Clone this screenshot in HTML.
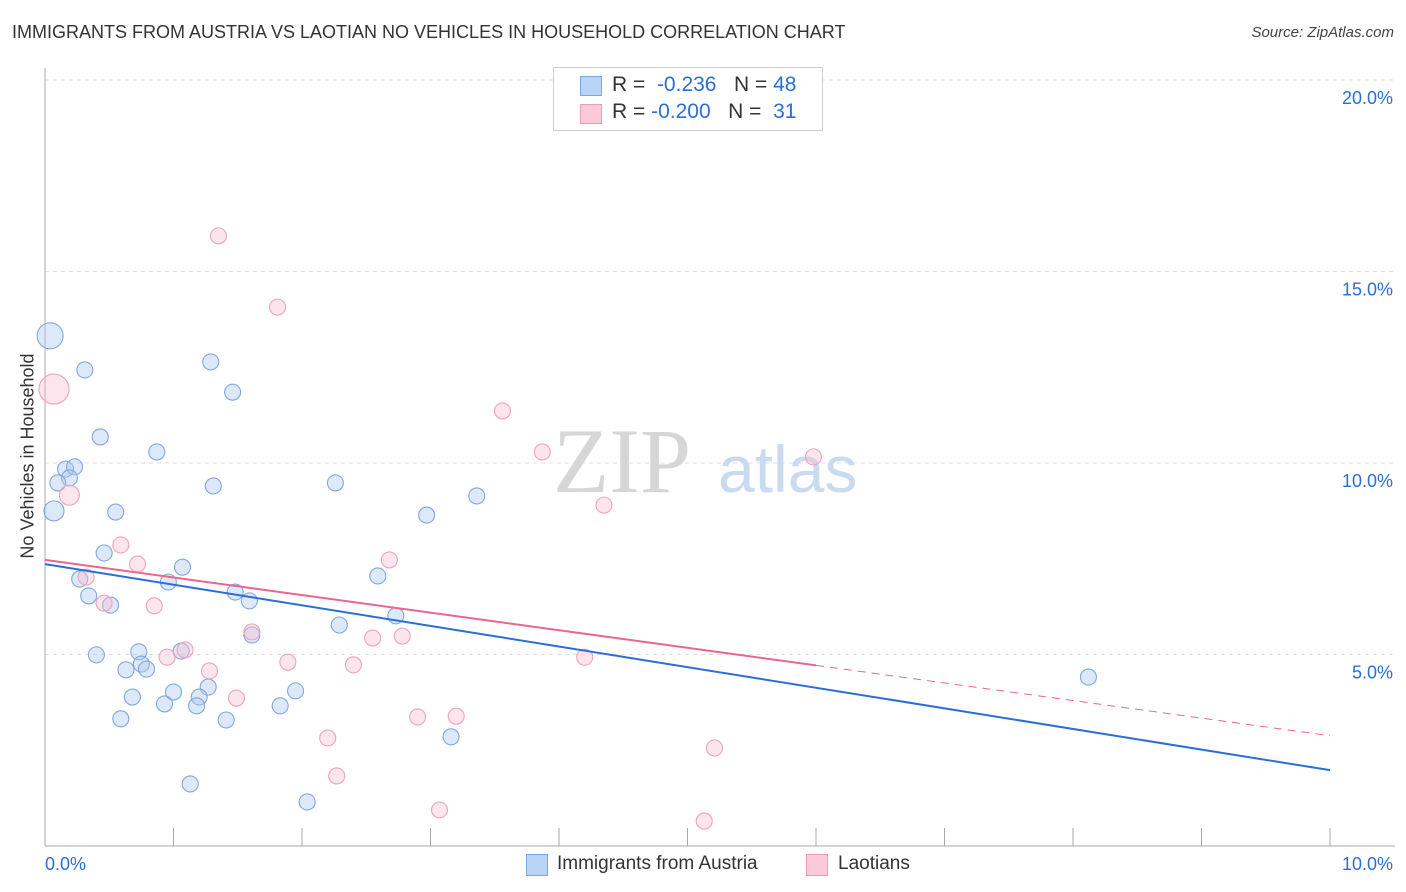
<!DOCTYPE html>
<html><head><meta charset="utf-8"><style>
body{margin:0;background:#fff;font-family:"Liberation Sans",sans-serif;}
#wrap{position:relative;width:1406px;height:892px;overflow:hidden;}
.t{position:absolute;white-space:nowrap;}
</style></head><body><div id="wrap">
<div class="t" style="left:12px;top:22px;font-size:18px;color:#333;">IMMIGRANTS FROM AUSTRIA VS LAOTIAN NO VEHICLES IN HOUSEHOLD CORRELATION CHART</div>
<div class="t" style="right:12px;top:24px;font-size:15px;color:#444;font-style:italic;">Source: ZipAtlas.com</div>
<svg id="svg" width="1406" height="892" style="position:absolute;left:0;top:0"></svg>
<div class="t" style="left:553px;top:67px;width:268px;height:62px;border:1px solid #ccc;background:#fff;font-size:21px;">
<div style="position:absolute;left:26px;top:8px;width:20px;height:18px;background:#b8d4f4;border:1px solid #7aaae6"></div>
<div class="t" style="left:58px;top:5px;color:#333">R = <span style="color:#2a6fd6">&nbsp;-0.236</span>&nbsp;&nbsp;&nbsp;N = <span style="color:#2a6fd6">48</span></div>
<div style="position:absolute;left:26px;top:36px;width:20px;height:18px;background:#fbcad8;border:1px solid #f09ab5"></div>
<div class="t" style="left:58px;top:32px;color:#333">R = <span style="color:#2a6fd6">-0.200</span>&nbsp;&nbsp;&nbsp;N = <span style="color:#2a6fd6">&nbsp;31</span></div>
</div>
<div class="t" style="left:14px;top:456px;font-size:18px;color:#333;transform:translate(-50%,-50%) rotate(-90deg);transform-origin:center;margin-left:14px">No Vehicles in Household</div>
<div style="position:absolute;left:526px;top:854px;width:20px;height:20px;background:#b8d4f4;border:1px solid #7aaae6"></div>
<div class="t" style="left:557px;top:853px;font-size:19px;color:#333">Immigrants from Austria</div>
<div style="position:absolute;left:806px;top:854px;width:20px;height:20px;background:#fbcad8;border:1px solid #f09ab5"></div>
<div class="t" style="left:838px;top:853px;font-size:19px;color:#333">Laotians</div>
</div>
<script>
const blueX=[0.04,0.31,1.29,1.46,0.43,0.87,0.16,0.23,0.19,0.10,1.31,2.26,3.36,0.07,0.55,2.97,0.46,1.07,2.59,0.27,0.96,1.48,0.34,0.51,1.59,2.73,2.29,1.61,1.06,0.73,0.40,0.75,0.79,0.63,8.12,1.27,1.95,1.00,0.68,1.20,0.93,1.18,1.83,0.59,1.41,3.16,1.13,2.04];
const blueY=[13.32,12.43,12.64,11.85,10.68,10.29,9.84,9.90,9.61,9.48,9.40,9.48,9.14,8.75,8.72,8.64,7.65,7.28,7.05,6.97,6.89,6.63,6.53,6.29,6.40,6.01,5.77,5.51,5.09,5.07,4.99,4.75,4.62,4.60,4.41,4.15,4.05,4.02,3.89,3.89,3.71,3.66,3.66,3.32,3.29,2.85,1.62,1.15];
const blueR=[13,8,8,8,8,8,8,8,8,8,8,8,8,10,8,8,8,8,8,8,8,8,8,8,8,8,8,8,8,8,8,8,8,8,8,8,8,8,8,8,8,8,8,8,8,8,8,8];
const pinkX=[0.07,1.35,1.81,3.56,3.87,5.98,0.19,4.35,0.59,0.72,2.68,0.32,0.85,0.46,1.61,2.55,2.78,1.09,0.95,1.89,2.40,1.28,4.20,1.49,2.90,3.20,2.20,5.21,2.27,3.07,5.13];
const pinkY=[11.93,15.93,14.07,11.36,10.29,10.16,9.16,8.90,7.86,7.36,7.47,7.02,6.27,6.34,5.59,5.43,5.48,5.12,4.93,4.80,4.73,4.57,4.93,3.86,3.37,3.39,2.82,2.56,1.83,0.94,0.65];
const pinkR=[15,8,8,8,8,8,10,8,8,8,8,8,8,8,8,8,8,8,8,8,8,8,8,8,8,8,8,8,8,8,8];
const blueTrend=[7.36,1.98];
const pinkTrend=[7.47,2.88];
const pinkSolidEnd=6.0;
const yTicks=[5,10,15,20];
const yTickLabels=["5.0%","10.0%","15.0%","20.0%"];
const xTicks=[0,1,2,3,4,5,6,7,8,9,10];
const X=v=>45+v*128.5, Y=v=>846-v*38.3;
const s=document.getElementById('svg'),NS='http://www.w3.org/2000/svg';
function mk(t,a,p){const e=document.createElementNS(NS,t);for(const k in a)e.setAttribute(k,a[k]);(p||s).appendChild(e);return e;}
let g;
yTicks.forEach((v,i)=>{
g=mk('line',{x1:45,x2:1395,y1:Y(v),y2:Y(v),stroke:'#ddd','stroke-dasharray':'4,4'});


g=mk('text',{x:1393,y:Y(v)+24,'text-anchor':'end','font-size':18,fill:'#2a6fd6','font-family':'Liberation Sans'});g.textContent=yTickLabels[i];


});
mk('line',{x1:45,x2:45,y1:68,y2:846,stroke:'#aaa'});
mk('line',{x1:45,x2:1395,y1:846,y2:846,stroke:'#aaa'});
xTicks.forEach(v=>{g=mk('line',{x1:X(v),x2:X(v),y1:828,y2:846,stroke:'#aaa'});

});
g=mk('text',{x:45,y:870,'font-size':18,fill:'#2a6fd6','font-family':'Liberation Sans'});g.textContent='0.0%';
g=mk('text',{x:1393,y:870,'text-anchor':'end','font-size':18,fill:'#2a6fd6','font-family':'Liberation Sans'});g.textContent='10.0%';
g=mk('text',{x:553,y:492,'font-size':92,fill:'#d6d6d6','font-family':'Liberation Serif'});g.textContent='ZIP';
g=mk('text',{x:718,y:492,'font-size':66,fill:'#c9daf1','font-family':'Liberation Sans'});g.textContent='atlas';
blueX.forEach((v,i)=>{g=mk('circle',{cx:X(v),cy:Y(blueY[i]),r:blueR[i],fill:'rgba(170,200,240,0.4)',stroke:'#7fa8df','stroke-width':1.1});

});
pinkX.forEach((v,i)=>{g=mk('circle',{cx:X(v),cy:Y(pinkY[i]),r:pinkR[i],fill:'rgba(248,190,210,0.4)',stroke:'#f0a2bb','stroke-width':1.1});

});
const pt=(tr,x)=>tr[0]+(tr[1]-tr[0])*x/10;
g=mk('line',{x1:X(0),y1:Y(pt(blueTrend,0)),x2:X(10),y2:Y(pt(blueTrend,10)),stroke:'#2a6fd6','stroke-width':2});


g=mk('line',{x1:X(0),y1:Y(pt(pinkTrend,0)),x2:X(pinkSolidEnd),y2:Y(pt(pinkTrend,pinkSolidEnd)),stroke:'#e8668f','stroke-width':2});


g=mk('line',{x1:X(pinkSolidEnd),y1:Y(pt(pinkTrend,pinkSolidEnd)),x2:X(10),y2:Y(pt(pinkTrend,10)),stroke:'#e8668f','stroke-width':1,'stroke-dasharray':'8,6'});


</script></body></html>
